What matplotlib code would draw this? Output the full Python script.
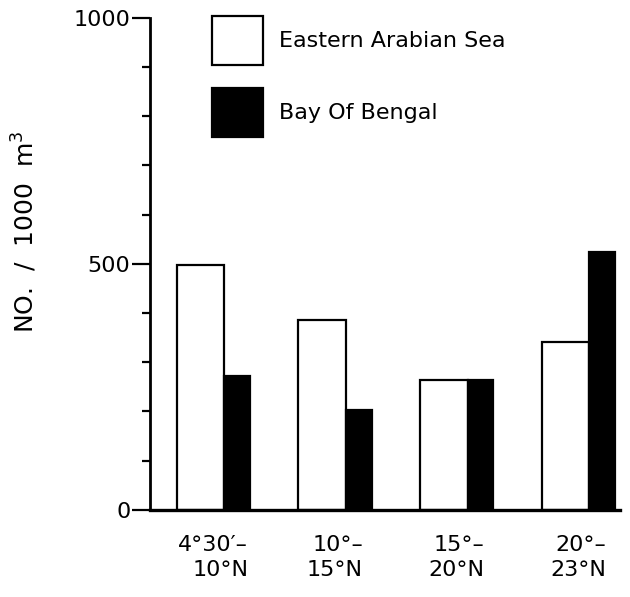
import numpy as np
import matplotlib.pyplot as plt
from matplotlib.ticker import MultipleLocator
from matplotlib.patches import Patch

# Values (No. / 1000 m3)
regions = ["4°30′–\n10°N", "10°–\n15°N", "15°–\n20°N", "20°–\n23°N"]
arabian = [498, 386, 264, 341]
bengal = [272, 203, 264, 524]

fig = plt.figure(figsize=(6.3, 5.97), dpi=100)
ax = fig.add_axes([0.238, 0.146, 0.746, 0.824])

x = np.arange(len(regions))
w1 = 0.39
w2 = 0.21
ax.bar(x - 0.3, arabian, width=w1, align='edge', color='white',
       edgecolor='black', linewidth=1.6)
ax.bar(x - 0.3 + w1, bengal, width=w2, align='edge', color='black',
       edgecolor='black', linewidth=1.6)

ax.set_xlim(-0.52, 3.34)
ax.set_ylim(0, 1000)
ax.set_xticks(x)
ax.set_xticklabels(regions, fontsize=16, multialignment='right', linespacing=1.3)
ax.tick_params(axis='x', length=0, pad=18)
ax.set_yticks([0, 500, 1000])
ax.yaxis.set_minor_locator(MultipleLocator(100))
ax.tick_params(axis='y', which='major', length=13, width=1.6, labelsize=16, pad=1)
ax.tick_params(axis='y', which='minor', length=6, width=1.6)

ax.spines['top'].set_visible(False)
ax.spines['right'].set_visible(False)
ax.spines['left'].set_linewidth(2)
ax.spines['bottom'].set_linewidth(2.4)

ax.set_ylabel('NO.  /  1000  m$^{3}$', fontsize=18)
ax.yaxis.set_label_coords(-0.235, 0.565)

handles = [Patch(facecolor='white', edgecolor='black', linewidth=1.6),
           Patch(facecolor='black', edgecolor='black', linewidth=1.6)]
ax.legend(handles, ['Eastern Arabian Sea', 'Bay Of Bengal'],
          loc='upper left', bbox_to_anchor=(0.09, 1.045), frameon=False,
          fontsize=16, handlelength=2.3, handleheight=3.0,
          labelspacing=1.05, handletextpad=0.7)

fig.savefig('out.png', dpi=100)
